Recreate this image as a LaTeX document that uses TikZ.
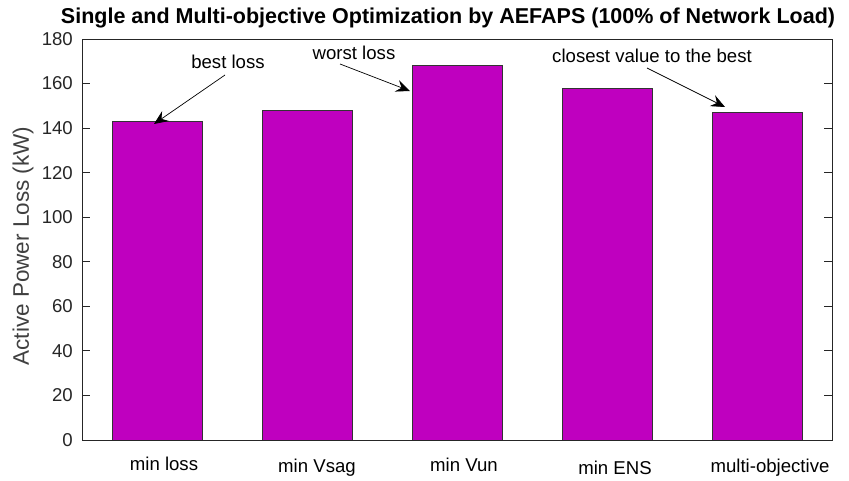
\documentclass[tikz,border=0pt]{standalone}
\usepackage{fontspec}
\setmainfont{Liberation Sans}
\usetikzlibrary{arrows.meta}
\definecolor{barc}{RGB}{191,0,191}
\definecolor{axc}{RGB}{38,38,38}
\definecolor{lblc}{RGB}{64,64,64}
\begin{document}
\begin{tikzpicture}[x=1pt,y=-1pt,
  bar/.style={draw=black!80,line width=0.8pt,fill=barc,minimum width=90pt,anchor=south,inner sep=0pt,outer sep=0pt},
  ticklbl/.style={anchor=east,font=\fontsize{18.6}{20}\selectfont,text=axc,inner sep=0pt},
  catlbl/.style={font=\fontsize{18.6}{20}\selectfont,text=black,inner sep=0pt},
  annot/.style={font=\fontsize{18.6}{20}\selectfont,text=black,inner sep=0pt},
  arr/.style={draw=black,line width=0.7pt,-{Stealth[length=14pt,width=12pt,inset=5pt]}},
  axline/.style={draw=axc,line width=0.8pt}]
\useasboundingbox (0,0) rectangle (849,481);
% bars
\node[bar,minimum height=318.6pt] (b1) at (157,440) {};
\node[bar,minimum height=329.7pt] (b2) at (307,440) {};
\node[bar,minimum height=374.3pt] (b3) at (457,440) {};
\node[bar,minimum height=352.0pt] (b4) at (607,440) {};
\node[bar,minimum height=327.5pt] (b5) at (757,440) {};
% axes box
\draw[axline] (82,39) rectangle (832,440);
\foreach \v in {0,20,...,180}{
  \pgfmathsetmacro{\yy}{440-\v*2.2278}
  \draw[axline] (82,\yy) -- (90,\yy);
  \draw[axline] (832,\yy) -- (824,\yy);
  \node[ticklbl] at (73,\yy) {\v};
}
% title
\node[font=\fontsize{21.5}{24}\selectfont\bfseries,inner sep=0pt] (title) at (448,18) {Single and Multi-objective Optimization by AEFAPS (100\% of Network Load)};
% y label
\node[rotate=90,font=\fontsize{22.5}{24}\selectfont,text=lblc,inner sep=0pt] (ylab) at (23,246) {Active Power Loss (kW)};
% category labels
\node[catlbl] (c1) at (164,464) {min loss};
\node[catlbl] (c2) at (317,468) {min Vsag};
\node[catlbl] (c3) at (464,465) {min Vun};
\node[catlbl] (c4) at (615,468) {min ENS};
\node[catlbl] (c5) at (770,468) {multi-objective};
% annotations
\node[annot] (a1) at (228,62) {best loss};
\node[annot] (a2) at (354,53) {worst loss};
\node[annot] (a3) at (652,56) {closest value to the best};
\coordinate (a1s) at (225,75);
\coordinate (a1e) at (154,124);
\coordinate (a2s) at (340,64);
\coordinate (a2e) at (410,91);
\coordinate (a3s) at (647,68);
\coordinate (a3e) at (725,107);
\draw[arr] (a1s) -- (a1e);
\draw[arr] (a2s) -- (a2e);
\draw[arr] (a3s) -- (a3e);
\end{tikzpicture}
\end{document}
